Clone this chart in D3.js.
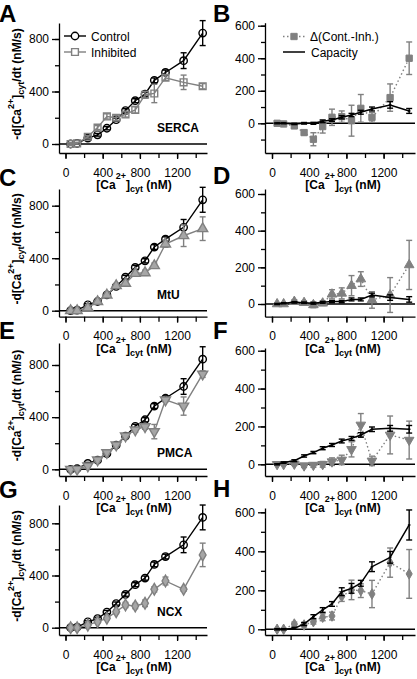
<!DOCTYPE html>
<html><head><meta charset="utf-8">
<script src="https://cdn.jsdelivr.net/npm/d3@7"></script>
<style>
body{margin:0;background:#fff}
svg{display:block}
text{font-family:"Liberation Sans",Arial,Helvetica,sans-serif}
</style>
</head><body><svg id="c" width="417" height="679"></svg>
<script>
// ---------- DATA ----------
const caConc = [55,125,240,345,445,545,645,750,855,955,1075,1270,1475];
const xTickValues = [0,200,400,600,800,1000,1200,1400];
const xTickLabels = [0,400,800,1200];
const leftYTicks = [0,200,400,600,800];
const leftYLabels = [0,400,800];
const rightYLabels = [0,200,400,600];

const control    = [0,5,45,70,120,185,255,330,380,485,545,635,845];
const controlErr = [6,6,8,10,12,12,14,15,16,18,18,60,95];

const sercaInh      = [0,5,55,125,210,200,225,260,375,385,505,470,440];
const sercaInhErr   = [6,6,10,15,20,20,20,25,25,70,20,55,20];
const sercaDelta    = [0,-4,-16,-57,-98,-20,37,41,16,92,37,158,400];
const sercaDeltaErr = [8,8,12,15,40,40,50,35,95,85,30,84,100];
const sercaCap      = [0,0,-4,0,0,12,20,37,51,68,88,113,76];
const sercaCapErr   = [3,3,4,5,6,8,8,10,10,12,12,20,15];

const mtuInh      = [0,0,23,69,119,190,208,284,289,343,508,571,625];
const mtuInhErr   = [5,5,8,10,12,15,15,20,20,20,25,82,90];
const mtuDelta    = [0,0,13,7,-5,4,53,58,100,136,22,49,213];
const mtuDeltaErr = [5,6,10,10,15,12,25,30,55,40,45,95,134];
const mtuCap      = [0,4,9,7,4,9,13,13,25,25,49,35,25];
const mtuCapErr   = [3,3,4,4,5,5,6,6,8,8,10,15,15];

const pmcaInh      = [0,0,26,72,128,187,256,302,327,289,532,485,730];
const pmcaInhErr   = [5,5,8,10,12,14,15,18,20,55,15,70,25];
const pmcaDelta    = [0,0,2,-7,-4,0,14,23,79,208,18,155,128];
const pmcaDeltaErr = [5,5,8,10,12,15,20,25,40,60,25,100,100];
const pmcaCap      = [0,9,19,44,62,85,102,123,137,155,185,190,185];
const pmcaCapErr   = [3,4,5,6,6,8,8,10,10,12,12,15,20];

const ncxInh      = [0,0,20,46,72,123,174,166,187,294,358,294,558];
const ncxInhErr   = [5,5,8,10,12,15,20,20,25,20,30,15,90];
const ncxDelta    = [0,0,27,22,39,62,68,168,202,198,181,342,284];
const ncxDeltaErr = [5,5,10,10,12,18,20,25,50,35,70,75,125];
const ncxCap      = [0,0,5,27,65,99,130,193,210,236,321,369,535];
const ncxCapErr   = [3,3,5,8,10,12,12,20,25,15,25,30,77];

const panelNames = ["SERCA","MtU","PMCA","NCX"];
const leftLetters = ["A","C","E","G"];
const rightLetters = ["B","D","F","H"];
const legendLeft = ["Control","Inhibited"];
const legendRight = ["\u0394(Cont.-Inh.)","Capacity"];

// ---------- LAYOUT ----------
const svg = d3.select("#c");
const GRAY = "#808080", LGRAY = "#a6a6a6";
const rows = [
 {name:panelNames[0], inh:sercaInh, inhErr:sercaInhErr, delta:sercaDelta, deltaErr:sercaDeltaErr, cap:sercaCap, capErr:sercaCapErr,
  sym:"square", openInh:true, xAxisY:153, letterL:22, letterR:22,
  L:{zero:144, ref:39, top:23}, R:{zero:123.3, ref:25.7, top:22.7, minTick:-100}},
 {name:panelNames[1], inh:mtuInh, inhErr:mtuInhErr, delta:mtuDelta, deltaErr:mtuDeltaErr, cap:mtuCap, capErr:mtuCapErr,
  sym:"triangle", xAxisY:316.7, letterL:186, letterR:184,
  L:{zero:310.7, ref:205.7, top:189}, R:{zero:304, ref:194, top:189, minTick:0}},
 {name:panelNames[2], inh:pmcaInh, inhErr:pmcaInhErr, delta:pmcaDelta, deltaErr:pmcaDeltaErr, cap:pmcaCap, capErr:pmcaCapErr,
  sym:"down", xAxisY:476, letterL:339, letterR:339,
  L:{zero:469.3, ref:365, top:343}, R:{zero:464.3, ref:350.7, top:348, minTick:0}},
 {name:panelNames[3], inh:ncxInh, inhErr:ncxInhErr, delta:ncxDelta, deltaErr:ncxDeltaErr, cap:ncxCap, capErr:ncxCapErr,
  sym:"diamond", xAxisY:635, letterL:498, letterR:497,
  L:{zero:627.7, ref:523.3, top:505}, R:{zero:629.3, ref:512.3, top:508, minTick:0}},
];

const cols = [
 {axX:59, x0:65.5, right:207},
 {axX:265, x0:272, right:415}
];
const pxPerUnit = 0.093;

function makeX(c){
  const s = d3.scaleLinear().domain([0,1400]).range([c.x0, c.x0+1400*pxPerUnit]);
  return d3.scaleLinear().domain([s.invert(c.axX), s.invert(c.right)]).range([c.axX, c.right]);
}
function makeY(g, refVal, bottomPx){
  const s = d3.scaleLinear().domain([0,refVal]).range([g.zero, g.ref]);
  return d3.scaleLinear().domain([s.invert(bottomPx), s.invert(g.top)]).range([bottomPx, g.top]);
}

function symPath(kind, size){
  if(kind==="circle") return d3.symbol(d3.symbolCircle, size)();
  if(kind==="square") return d3.symbol(d3.symbolSquare, size)();
  if(kind==="triangle") return d3.symbol(d3.symbolTriangle, size)();
  if(kind==="down") return d3.symbol(d3.symbolTriangle, size)();
  if(kind==="diamond") return d3.symbol(d3.symbolDiamond, size)();
}
function symRot(kind){ return kind==="down" ? " rotate(180)" : ""; }

function drawXAxis(g, x, y){
  g.append("g").attr("transform",`translate(0,${y})`)
   .call(d3.axisBottom(x).tickValues(xTickValues).tickSize(5).tickFormat("").tickSizeOuter(0))
   .call(a=>a.select(".domain").attr("stroke","#000").attr("stroke-width",1.3))
   .call(a=>a.selectAll(".tick line").attr("stroke-width",1.3));
  g.append("g").attr("transform",`translate(0,${y})`)
   .call(d3.axisBottom(x).tickValues(xTickLabels).tickSize(6).tickPadding(9).tickFormat(d3.format("d")).tickSizeOuter(0))
   .call(a=>a.select(".domain").remove())
   .call(a=>a.selectAll(".tick line").attr("stroke-width",1.3))
   .call(a=>a.selectAll("text").attr("font-size",12).attr("fill","#000")
        .attr("font-family",'"Liberation Sans",Arial,sans-serif'));
}
function xTitle(g, cx, y){
  const t = g.append("text").attr("x",cx).attr("y",y).attr("text-anchor","middle")
    .attr("font-size",12).attr("font-weight","bold");
  t.append("tspan").text("[Ca");
  t.append("tspan").attr("font-size",9).attr("dy",-10).text("2+");
  t.append("tspan").attr("dy",10).text("]");
  t.append("tspan").attr("font-size",9).attr("dy",3).text("cyt");
  t.append("tspan").attr("dy",-3).text(" (nM)");
}
function yTitle(g, bx, cy){
  const t = g.append("text").attr("transform",`translate(${bx},${cy}) rotate(-90)`)
    .attr("text-anchor","middle").attr("font-size",12).attr("font-weight","bold");
  t.append("tspan").text("-d[Ca");
  t.append("tspan").attr("font-size",9).attr("dy",-7).text("2+");
  t.append("tspan").attr("dy",7).text("]");
  t.append("tspan").attr("font-size",9).attr("dy",3).text("cyt");
  t.append("tspan").attr("dy",-3).text("/dt (nM/s)");
}
function drawYAxis(g, y, axX, ticks, labels){
  g.append("g").attr("transform",`translate(${axX},0)`)
   .call(d3.axisLeft(y).tickValues(ticks).tickSize(4).tickFormat("").tickSizeOuter(0))
   .call(a=>a.select(".domain").attr("stroke-width",1.3))
   .call(a=>a.selectAll(".tick line").attr("stroke-width",1.3));
  g.append("g").attr("transform",`translate(${axX},0)`)
   .call(d3.axisLeft(y).tickValues(labels).tickSize(7).tickPadding(3).tickFormat(d3.format("d")).tickSizeOuter(0))
   .call(a=>a.select(".domain").remove())
   .call(a=>a.selectAll(".tick line").attr("stroke-width",1.3))
   .call(a=>a.selectAll("text").attr("font-size",12).attr("fill","#000")
        .attr("font-family",'"Liberation Sans",Arial,sans-serif'));
}
function errBars(g, x, y, xs, vals, errs, color, cap, hErr){
  const gg = g.append("g").attr("stroke",color).attr("stroke-width",1.4).attr("fill","none");
  xs.forEach((cv,i)=>{
    const X = x(cv), y1 = y(vals[i]-errs[i]), y2 = y(vals[i]+errs[i]);
    gg.append("line").attr("x1",X).attr("x2",X).attr("y1",y1).attr("y2",y2);
    gg.append("line").attr("x1",X-cap).attr("x2",X+cap).attr("y1",y1).attr("y2",y1);
    gg.append("line").attr("x1",X-cap).attr("x2",X+cap).attr("y1",y2).attr("y2",y2);
    if(hErr){
      gg.append("line").attr("x1",x(cv-hErr)).attr("x2",x(cv+hErr)).attr("y1",y(vals[i])).attr("y2",y(vals[i]));
    }
  });
}

rows.forEach((r, ri)=>{
  // ---------- LEFT PANEL ----------
  const cL = cols[0];
  const x = makeX(cL);
  const y = makeY(r.L, 800, r.xAxisY);
  const g = svg.append("g");
  g.append("line").attr("x1",cL.axX).attr("x2",cL.right).attr("y1",y(0)).attr("y2",y(0))
    .attr("stroke","#000").attr("stroke-width",1.4);
  drawYAxis(g, y, cL.axX, leftYTicks, leftYLabels);
  drawXAxis(g, x, r.xAxisY);
  xTitle(g, 134, r.xAxisY+36);
  yTitle(g, 21, (r.L.top + r.xAxisY)/2 - 4);
  const line = d3.line().x((d,i)=>x(caConc[i])).y(d=>y(d));
  g.append("path").datum(control).attr("d",line).attr("fill","none").attr("stroke","#000").attr("stroke-width",1.4);
  errBars(g, x, y, caConc, control, controlErr, "#000", 3, 0);
  g.selectAll(null).data(control).join("circle")
    .attr("cx",(d,i)=>x(caConc[i])).attr("cy",d=>y(d)).attr("r",3.7)
    .attr("fill","none").attr("stroke","#000").attr("stroke-width",1.4);
  g.append("path").datum(r.inh).attr("d",line).attr("fill","none").attr("stroke",GRAY).attr("stroke-width",1.4);
  errBars(g, x, y, caConc, r.inh, r.inhErr, GRAY, 3, 0);
  g.selectAll(null).data(r.inh).join("path")
    .attr("d",symPath(r.sym, r.sym==="square"?46:(r.sym==="diamond"?40:44)))
    .attr("transform",(d,i)=>`translate(${x(caConc[i])},${y(d)})${symRot(r.sym)}`)
    .attr("fill", r.openInh ? "none" : LGRAY).attr("stroke",GRAY).attr("stroke-width",1.4);
  g.append("text").attr("x",157).attr("y",y(0)-12).attr("font-size",12).attr("font-weight","bold").text(r.name);
  g.append("text").attr("x",-1).attr("y",r.letterL).attr("font-size",24).attr("font-weight","bold").text(leftLetters[ri]);

  // ---------- RIGHT PANEL ----------
  const cR = cols[1];
  const xr = makeX(cR);
  const yr = makeY(r.R, 600, r.xAxisY);
  const h = svg.append("g");
  h.append("line").attr("x1",cR.axX).attr("x2",cR.right).attr("y1",yr(0)).attr("y2",yr(0))
    .attr("stroke","#000").attr("stroke-width",1.4);
  const rTicks = d3.range(r.R.minTick, 601, 100);
  drawYAxis(h, yr, cR.axX, rTicks, rightYLabels);
  drawXAxis(h, xr, r.xAxisY);
  xTitle(h, 343, r.xAxisY+36);
  const liner = d3.line().x((d,i)=>xr(caConc[i])).y(d=>yr(d));
  h.append("path").datum(r.delta).attr("d",liner).attr("fill","none").attr("stroke",GRAY)
    .attr("stroke-width",1.4).attr("stroke-dasharray","1.5,2.5");
  errBars(h, xr, yr, caConc, r.delta, r.deltaErr, GRAY, 3, 0);
  h.selectAll(null).data(r.delta).join("path")
    .attr("d",symPath(r.sym, r.sym==="diamond"?32:40))
    .attr("transform",(d,i)=>`translate(${xr(caConc[i])},${yr(d)})${symRot(r.sym)}`)
    .attr("fill",GRAY).attr("stroke",GRAY).attr("stroke-width",1);
  h.append("path").datum(r.cap).attr("d",liner).attr("fill","none").attr("stroke","#000").attr("stroke-width",1.5);
  errBars(h, xr, yr, caConc, r.cap, r.capErr, "#000", 3, 14);
  h.append("text").attr("x",213).attr("y",r.letterR).attr("font-size",24).attr("font-weight","bold").text(rightLetters[ri]);
});

// ---------- LEGENDS ----------
const lg = svg.append("g");
lg.append("line").attr("x1",64).attr("x2",86).attr("y1",36).attr("y2",36).attr("stroke","#000").attr("stroke-width",1.4);
lg.append("circle").attr("cx",75).attr("cy",36).attr("r",3.7).attr("fill","#fff").attr("stroke","#000").attr("stroke-width",1.4);
lg.append("text").attr("x",91).attr("y",40.5).attr("font-size",12).text(legendLeft[0]);
lg.append("line").attr("x1",64).attr("x2",86).attr("y1",52).attr("y2",52).attr("stroke",GRAY).attr("stroke-width",1.4);
lg.append("path").attr("d",symPath("square",46)).attr("transform","translate(75,52)").attr("fill","#fff").attr("stroke",GRAY).attr("stroke-width",1.4);
lg.append("text").attr("x",91).attr("y",56.5).attr("font-size",12).text(legendLeft[1]);

lg.append("line").attr("x1",283).attr("x2",305).attr("y1",36.5).attr("y2",36.5).attr("stroke",GRAY).attr("stroke-width",1.4).attr("stroke-dasharray","1.5,2.5");
lg.append("path").attr("d",symPath("square",40)).attr("transform","translate(294,36.5)").attr("fill",GRAY).attr("stroke",GRAY);
lg.append("text").attr("x",310).attr("y",41).attr("font-size",12).text(legendRight[0]);
lg.append("line").attr("x1",283).attr("x2",305).attr("y1",52).attr("y2",52).attr("stroke","#000").attr("stroke-width",1.5);
lg.append("text").attr("x",311).attr("y",56.5).attr("font-size",12).text(legendRight[1]);
</script>
</body></html>
